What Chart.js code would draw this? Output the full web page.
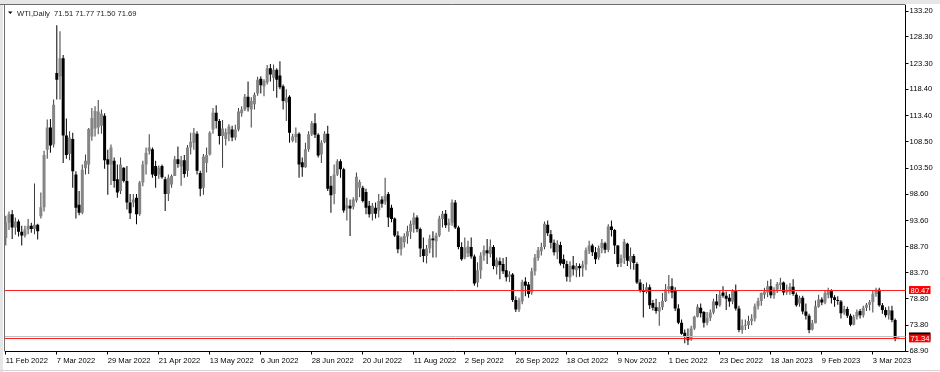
<!DOCTYPE html>
<html>
<head>
<meta charset="utf-8">
<title>WTI,Daily</title>
<script src="https://cdn.jsdelivr.net/npm/chart.js@4.4.1/dist/chart.umd.min.js"></script>
<style>
  html, body { margin: 0; padding: 0; background: #fff; }
  #wrap { width: 940px; height: 372px; }
</style>
</head>
<body>
<div id="wrap"><canvas id="grafico" width="940" height="372"></canvas></div>
<script>
// ========= Data =========
const symbol = "WTI,Daily";

// date labels, one every 16 bars
const tickLabels = [
  "11 Feb 2022", "7 Mar 2022", "29 Mar 2022", "21 Apr 2022", "13 May 2022", "6 Jun 2022",
  "28 Jun 2022", "20 Jul 2022", "11 Aug 2022", "2 Sep 2022", "26 Sep 2022", "18 Oct 2022",
  "9 Nov 2022", "1 Dec 2022", "23 Dec 2022", "18 Jan 2023", "9 Feb 2023", "3 Mar 2023",
];
const labelStep = 16;

// price scale labels (right axis)
const priceTicks = [68.90, 73.80, 78.80, 83.70, 88.70, 93.60, 98.60, 103.50, 108.50, 113.40, 118.40, 123.30, 128.30, 133.20];

// daily candles, 11 Feb 2022 .. 15 Mar 2023
const open = [
  90.3, 93.2, 94.8, 92.3, 93.4, 91.5, 90.8, 91.9, 92.6, 92.0,
  92.8, 94.4, 96.1, 107.0, 111.2, 108.0, 121.5, 120.9, 124.3, 109.7,
  106.2, 109.0, 102.3, 96.6, 95.1, 103.5, 104.2, 109.5, 111.0, 111.2,
  111.5, 113.4, 105.2, 104.2, 104.9, 101.4, 99.2, 103.6, 101.1, 97.0,
  97.0, 97.9, 94.8, 100.8, 104.2, 106.7, 107.1, 103.9, 102.3, 103.9,
  101.4, 98.6, 100.4, 102.0, 105.2, 103.8, 105.0, 103.0, 107.4, 108.3,
  110.0, 102.6, 99.8, 104.5, 106.1, 110.8, 114.0, 112.4, 109.6, 109.0,
  109.9, 110.8, 109.3, 110.8, 113.9, 114.6, 117.0, 114.6, 115.6, 117.6,
  120.4, 119.0, 119.7, 122.4, 120.6, 122.1, 121.0, 119.0, 115.9, 117.0,
  108.7, 109.4, 110.0, 104.6, 103.7, 107.1, 109.9, 112.0, 109.8, 106.1,
  108.4, 110.0, 100.2, 98.6, 102.3, 104.8, 103.3, 95.9, 96.4, 96.2,
  97.4, 99.8, 99.8, 99.0, 96.4, 94.9, 96.0, 95.5, 97.6, 97.2,
  98.6, 96.0, 94.0, 90.8, 88.2, 89.5, 90.6, 91.5, 92.8, 94.2,
  92.0, 88.2, 86.9, 88.3, 90.2, 89.7, 90.8, 93.9, 94.9, 92.7,
  93.2, 97.0, 92.3, 88.6, 86.6, 87.4, 88.6, 86.8, 81.9, 84.2,
  87.0, 88.0, 87.3, 88.6, 84.8, 85.9, 85.4, 84.2, 83.0, 83.4,
  78.6, 76.8, 78.3, 82.1, 81.5, 80.0, 84.0, 86.5, 87.8, 88.6,
  92.8, 91.0, 89.4, 87.6, 89.0, 86.3, 85.4, 82.9, 85.1, 84.2,
  85.0, 84.6, 85.3, 87.9, 88.9, 87.6, 86.6, 88.4, 89.3, 88.1,
  92.5, 91.8, 88.9, 85.6, 86.5, 89.2, 85.8, 86.9, 85.4, 81.9,
  80.4, 80.1, 81.0, 78.0, 77.2, 76.4, 77.2, 78.4, 80.6, 81.2,
  80.4, 77.0, 74.3, 72.4, 71.6, 71.1, 73.2, 75.4, 77.1, 76.3,
  74.3, 75.2, 76.2, 78.3, 77.6, 80.0, 79.4, 79.0, 78.3, 80.4,
  77.0, 72.9, 73.7, 73.8, 74.6, 75.1, 77.4, 78.4, 79.6, 80.0,
  81.2, 79.5, 80.5, 81.4, 81.9, 80.0, 80.1, 81.1, 79.6, 77.9,
  79.0, 76.4, 75.6, 73.0, 74.2, 77.3, 78.7, 78.1, 79.6, 80.3,
  79.1, 78.6, 78.3, 76.2, 76.9, 75.6, 73.9, 75.4, 76.5, 75.7,
  77.1, 77.7, 78.2, 79.7, 80.5, 77.6, 76.7, 75.7, 76.6, 74.8,
  71.51,
];
const high = [
  94.5, 95.3, 95.6, 94.2, 93.8, 92.6, 92.6, 93.9, 93.2, 100.6,
  93.0, 98.9, 106.8, 112.7, 112.8, 116.5, 130.5, 129.4, 124.9, 112.9,
  110.5, 110.2, 102.9, 99.2, 104.2, 106.1, 111.1, 114.9, 115.2, 116.4,
  114.6, 113.9, 107.0, 108.0, 105.5, 104.2, 105.5, 103.7, 103.9, 98.6,
  98.6, 98.6, 101.1, 104.9, 107.4, 109.9, 107.4, 104.9, 104.0, 104.2,
  101.9, 102.3, 102.3, 105.8, 107.6, 105.8, 106.0, 107.9, 110.2, 111.1,
  110.5, 103.0, 106.2, 107.4, 110.5, 114.9, 115.4, 112.8, 112.6, 111.0,
  111.8, 111.5, 111.7, 114.9, 115.2, 117.5, 119.9, 116.9, 117.8, 120.8,
  120.9, 120.3, 123.0, 123.2, 123.1, 122.4, 123.7, 119.3, 118.4, 117.3,
  110.0, 111.2, 110.3, 105.5, 108.3, 110.5, 112.4, 113.9, 110.1, 108.8,
  110.5, 111.5, 102.0, 104.2, 105.2, 105.2, 103.6, 97.9, 97.6, 98.0,
  102.7, 101.3, 100.2, 99.6, 97.3, 96.9, 97.0, 98.6, 98.2, 101.7,
  99.0, 96.6, 94.2, 91.6, 90.6, 91.2, 92.6, 93.6, 95.1, 94.6,
  92.3, 90.4, 89.0, 90.9, 91.6, 91.3, 94.5, 95.4, 95.6, 94.0,
  97.6, 97.5, 92.6, 89.5, 90.4, 89.8, 90.4, 87.2, 85.7, 87.6,
  88.9, 90.1, 90.0, 89.0, 86.6, 86.6, 86.5, 86.7, 84.0, 83.7,
  79.3, 79.0, 82.4, 82.9, 82.0, 84.7, 87.3, 88.6, 89.4, 93.4,
  93.6, 91.8, 90.0, 89.9, 89.6, 87.2, 86.0, 85.9, 86.9, 85.6,
  85.5, 86.0, 88.5, 89.8, 89.2, 88.6, 88.9, 90.1, 89.6, 92.9,
  93.6, 92.0, 89.0, 87.2, 90.1, 89.4, 88.5, 87.3, 85.7, 82.5,
  81.6, 81.9, 81.5, 78.6, 78.8, 78.2, 79.9, 81.6, 83.3, 82.7,
  81.0, 77.8, 74.9, 73.0, 73.2, 73.7, 75.6, 77.8, 77.9, 76.5,
  76.3, 76.8, 78.8, 79.7, 80.4, 81.2, 80.2, 79.7, 80.6, 81.5,
  77.5, 74.9, 74.9, 75.6, 75.9, 77.9, 79.0, 80.0, 80.9, 82.2,
  82.5, 81.0, 82.0, 82.8, 82.1, 81.5, 81.8, 82.5, 80.0, 79.4,
  79.4, 77.9, 76.0, 74.8, 78.5, 79.6, 79.1, 80.4, 80.9, 80.6,
  79.5, 79.3, 78.6, 77.5, 77.3, 76.0, 75.8, 76.8, 76.9, 77.5,
  78.0, 78.6, 80.4, 80.9, 80.9, 78.0, 77.2, 77.4, 77.5, 75.1,
  71.77,
];
const low = [
  88.9, 91.8, 90.1, 90.9, 90.6, 88.9, 90.4, 91.0, 91.3, 91.0,
  90.0, 94.0, 95.3, 105.3, 106.4, 107.4, 116.5, 116.5, 104.5, 105.3,
  105.0, 99.8, 94.0, 94.6, 94.8, 102.3, 102.4, 108.7, 109.5, 109.9,
  110.0, 103.4, 98.5, 100.3, 99.8, 97.9, 98.6, 100.8, 95.7, 93.9,
  96.1, 92.9, 94.5, 100.1, 102.3, 106.1, 101.7, 99.8, 101.5, 101.5,
  95.4, 97.3, 99.8, 102.0, 103.6, 100.2, 101.7, 101.9, 106.1, 107.0,
  102.3, 98.2, 98.5, 102.7, 105.9, 110.0, 111.0, 108.0, 103.6, 107.8,
  108.6, 108.6, 108.8, 110.5, 113.2, 114.3, 114.2, 111.2, 114.6, 117.2,
  117.6, 117.1, 119.3, 119.9, 118.1, 116.8, 118.4, 114.6, 112.4, 108.3,
  108.4, 108.3, 101.7, 101.9, 103.6, 106.6, 109.6, 109.2, 105.5, 104.5,
  108.2, 99.2, 95.1, 96.7, 102.0, 101.7, 95.1, 93.6, 90.7, 95.7,
  97.0, 98.0, 97.0, 94.8, 94.2, 93.6, 94.0, 94.2, 96.0, 96.6,
  92.4, 93.3, 90.5, 87.4, 87.0, 88.5, 89.2, 90.1, 91.3, 91.4,
  86.7, 85.7, 85.5, 87.4, 86.6, 86.6, 90.5, 92.3, 92.2, 91.5,
  92.6, 92.0, 88.2, 86.0, 86.3, 86.7, 86.4, 81.3, 81.0, 82.6,
  86.0, 85.4, 86.6, 84.4, 83.4, 82.5, 83.5, 82.1, 82.0, 78.2,
  76.3, 76.3, 77.8, 79.3, 79.0, 79.6, 83.2, 86.0, 87.0, 88.2,
  90.7, 88.3, 87.0, 86.3, 85.1, 84.6, 82.1, 82.0, 83.2, 82.9,
  83.0, 83.0, 84.2, 87.3, 86.9, 85.4, 86.2, 87.4, 87.4, 87.6,
  90.6, 87.3, 84.8, 84.8, 85.4, 85.0, 84.4, 84.3, 81.6, 80.0,
  75.3, 79.8, 76.9, 76.6, 76.0, 73.7, 76.7, 78.2, 79.8, 78.9,
  76.5, 74.0, 72.0, 70.4, 70.1, 70.9, 72.9, 75.3, 75.3, 73.4,
  73.8, 74.6, 75.9, 77.0, 77.3, 79.0, 76.7, 77.3, 77.8, 76.6,
  72.5, 72.2, 72.9, 73.1, 73.8, 74.5, 76.8, 77.5, 78.8, 79.1,
  78.9, 78.8, 79.9, 80.5, 79.5, 79.6, 79.6, 79.4, 77.3, 77.3,
  75.9, 74.9, 72.3, 72.8, 74.2, 77.1, 77.6, 77.8, 78.9, 77.9,
  77.3, 77.7, 75.1, 75.8, 75.2, 73.6, 73.8, 74.9, 75.1, 75.3,
  76.5, 76.6, 76.2, 79.2, 77.3, 76.0, 75.3, 74.9, 74.4, 70.8,
  71.50,
];
const close = [
  93.2, 94.8, 92.3, 93.4, 91.5, 90.8, 91.9, 92.6, 92.0, 92.8,
  91.6, 96.1, 106.0, 111.2, 107.8, 115.5, 120.2, 124.3, 109.7, 106.0,
  109.3, 102.9, 96.0, 95.1, 103.2, 104.9, 110.9, 113.0, 114.3, 114.2,
  113.8, 105.0, 104.2, 107.4, 101.1, 98.9, 104.2, 101.1, 97.0, 95.0,
  97.6, 94.8, 100.8, 104.2, 106.4, 107.4, 102.3, 102.0, 103.6, 101.8,
  98.6, 101.7, 102.0, 105.2, 104.3, 105.0, 102.4, 107.4, 108.5, 110.2,
  103.0, 99.6, 105.7, 106.0, 110.2, 114.0, 112.4, 109.6, 111.0, 110.3,
  111.4, 109.3, 110.8, 114.2, 114.6, 117.0, 115.0, 116.2, 117.4, 120.2,
  119.2, 120.0, 122.4, 121.2, 122.1, 120.2, 118.8, 116.2, 116.8, 110.2,
  109.5, 110.0, 104.2, 103.7, 107.1, 109.9, 112.0, 109.8, 105.9, 108.3,
  110.0, 99.6, 98.4, 102.3, 104.8, 103.3, 95.5, 96.5, 95.9, 97.6,
  101.9, 100.9, 97.3, 96.0, 94.8, 96.4, 94.9, 97.3, 96.8, 98.3,
  94.2, 93.9, 90.8, 88.2, 90.4, 90.7, 91.6, 93.0, 94.2, 92.0,
  88.3, 86.9, 88.3, 90.2, 89.9, 90.8, 94.0, 94.9, 92.7, 93.2,
  97.0, 92.3, 88.6, 86.3, 88.5, 88.7, 86.8, 81.7, 84.2, 87.0,
  88.0, 87.4, 88.7, 85.0, 86.2, 85.2, 84.0, 82.9, 83.4, 78.6,
  76.8, 78.5, 82.0, 81.3, 79.7, 84.0, 86.6, 88.0, 88.6, 93.0,
  91.2, 89.4, 87.6, 89.2, 85.5, 85.4, 83.0, 85.0, 84.4, 85.0,
  84.6, 85.3, 88.0, 88.9, 87.6, 86.3, 88.4, 89.4, 88.1, 92.5,
  91.8, 88.9, 85.4, 86.5, 89.6, 86.0, 86.9, 85.6, 81.9, 80.4,
  80.1, 81.0, 77.6, 77.1, 76.5, 77.2, 78.4, 80.6, 81.2, 80.0,
  77.0, 74.3, 72.2, 71.6, 71.0, 73.2, 75.4, 77.3, 76.1, 74.3,
  75.2, 76.2, 78.3, 77.6, 79.6, 79.4, 78.8, 78.3, 80.3, 77.0,
  72.9, 73.7, 73.8, 74.6, 75.1, 77.4, 78.4, 79.9, 80.2, 81.2,
  79.5, 80.5, 81.6, 81.9, 80.0, 80.3, 81.1, 79.7, 77.6, 79.0,
  76.4, 75.6, 72.9, 74.2, 77.4, 78.7, 78.1, 79.9, 80.3, 79.0,
  78.6, 78.4, 76.1, 76.9, 75.6, 73.9, 75.4, 76.3, 75.7, 77.1,
  77.7, 78.2, 79.7, 80.5, 77.6, 76.7, 75.7, 76.7, 74.8, 71.4,
  71.69,
];

// horizontal lines drawn on the chart
const levels = [80.47, 71.34];
const bidPrice = 71.69;

// ========= Styles =========
const FONT = "'Liberation Sans', Arial, sans-serif";
const FONT_SIZE = 7.6;
const BULL_BODY = "#858585";
const BEAR_BODY = "#000000";
const BULL_WICK = "#3c3c3c";
const BEAR_WICK = "#000000";

// ========= Candles as floating bars =========
const n = close.length;
const isUp = close.map((c, i) => c >= open[i]);
const wickData = close.map((c, i) => ({ x: i, y: [low[i], high[i]] }));
const bodyData = close.map((c, i) => ({ x: i, y: [open[i], c] }));

// ========= Plugin: frame, levels, labels, header =========
const mtDecor = {
  id: "mtDecor",
  beforeDraw(chart) {
    const { ctx, chartArea: a } = chart;
    ctx.save();
    ctx.fillStyle = "#fff";
    ctx.fillRect(0, 0, chart.width, chart.height);
    // window chrome
    ctx.fillStyle = "#e6e6e6";
    ctx.fillRect(0, 0, chart.width, 4);
    ctx.fillRect(0, 0, 3, chart.height);
    ctx.strokeStyle = "#6e6e6e";
    ctx.lineWidth = 1;
    ctx.beginPath();
    ctx.moveTo(0, 4.5);
    ctx.lineTo(a.right, 4.5);
    ctx.moveTo(4.5, 4.5);
    ctx.lineTo(4.5, a.bottom);
    ctx.stroke();
    ctx.strokeStyle = "#d6d6d6";
    ctx.beginPath();
    ctx.moveTo(0, 370.5);
    ctx.lineTo(chart.width, 370.5);
    ctx.stroke();
    ctx.restore();
  },
  afterDatasetsDraw(chart) {
    const { ctx, chartArea: a, scales } = chart;
    const y = scales.y;
    ctx.save();
    ctx.lineWidth = 1;
    // bid line
    const yb = Math.round(y.getPixelForValue(bidPrice)) + 0.5;
    ctx.strokeStyle = "#c0c0c0";
    ctx.beginPath();
    ctx.moveTo(a.left, yb);
    ctx.lineTo(a.right, yb);
    ctx.stroke();
    // red levels
    ctx.strokeStyle = "#ff2020";
    for (const v of levels) {
      const yy = Math.round(y.getPixelForValue(v)) + 0.5;
      ctx.beginPath();
      ctx.moveTo(a.left, yy);
      ctx.lineTo(a.right, yy);
      ctx.stroke();
    }
    ctx.restore();
  },
  afterDraw(chart) {
    const { ctx, chartArea: a, scales } = chart;
    const y = scales.y;
    ctx.save();
    ctx.font = `${FONT_SIZE}px ${FONT}`;
    ctx.textBaseline = "middle";
    ctx.textAlign = "left";
    const bx = a.right + 3.5;
    const bw = 21.5;
    // bid label (mostly hidden)
    const yb = y.getPixelForValue(bidPrice);
    ctx.fillStyle = "#000";
    ctx.fillRect(bx, yb - 4, bw, 8);
    // level labels
    for (const v of levels) {
      const yy = y.getPixelForValue(v);
      ctx.fillStyle = "#ff0000";
      ctx.fillRect(bx, yy - 4, bw, 8);
      ctx.fillStyle = "#fff";
      ctx.fillText(v.toFixed(2), bx + 1.5, yy + 0.5);
    }
    // header
    ctx.fillStyle = "#000";
    ctx.beginPath();
    ctx.moveTo(8, 11.5);
    ctx.lineTo(12.5, 11.5);
    ctx.lineTo(10.25, 14);
    ctx.closePath();
    ctx.fill();
    const last = n - 1;
    const head = `${symbol}  ${open[last].toFixed(2)} ${high[last].toFixed(2)} ${low[last].toFixed(2)} ${close[last].toFixed(2)}`;
    ctx.fillStyle = "#1a1a1a";
    ctx.fillText(head, 17, 13.5);
    ctx.restore();
  },
};

// ========= Chart =========
const font = { family: FONT, size: FONT_SIZE };

new Chart(document.getElementById("grafico"), {
  type: "bar",
  data: {
    datasets: [
      {
        label: "wick",
        data: wickData,
        grouped: false,
        barThickness: 1,
        inflateAmount: 0,
        borderWidth: 0,
        backgroundColor: isUp.map((u) => (u ? BULL_WICK : BEAR_WICK)),
        order: 2,
      },
      {
        label: "body",
        data: bodyData,
        grouped: false,
        barThickness: 3,
        minBarLength: 1,
        inflateAmount: 0,
        borderWidth: 0,
        backgroundColor: isUp.map((u) => (u ? BULL_BODY : BEAR_BODY)),
        order: 1,
      },
    ],
  },
  options: {
    responsive: false,
    devicePixelRatio: 1,
    animation: false,
    events: [],
    layout: { padding: { left: 5, top: 5, right: 0, bottom: 0 }, autoPadding: false },
    plugins: { legend: { display: false }, tooltip: { enabled: false }, title: { display: false } },
    scales: {
      x: {
        type: "linear",
        min: -0.25,
        max: 282.25,
        offset: false,
        grid: { display: true, drawOnChartArea: false, drawTicks: true, tickLength: 3, color: "#000", offset: false },
        border: { display: true, color: "#000", width: 1 },
        ticks: {
          autoSkip: false,
          maxRotation: 0,
          align: "start",
          padding: 2,
          color: "#000",
          font,
          callback: (v) => tickLabels[Math.round(v / labelStep)] ?? "",
        },
        afterBuildTicks: (s) => {
          s.ticks = tickLabels.map((_, k) => ({ value: k * labelStep }));
        },
        afterFit: (s) => {
          s.height = 20.5;
        },
      },
      y: {
        position: "right",
        min: 68.85,
        max: 134.24,
        grid: { display: true, drawOnChartArea: false, drawTicks: true, tickLength: 3, color: "#000" },
        border: { display: true, color: "#000", width: 1 },
        ticks: { padding: 1, color: "#000", font, callback: (v) => Number(v).toFixed(2) },
        afterBuildTicks: (s) => {
          s.ticks = priceTicks.map((v) => ({ value: v }));
        },
        afterFit: (s) => {
          s.width = 34.5;
        },
      },
    },
  },
  plugins: [mtDecor],
});
</script>
</body>
</html>
